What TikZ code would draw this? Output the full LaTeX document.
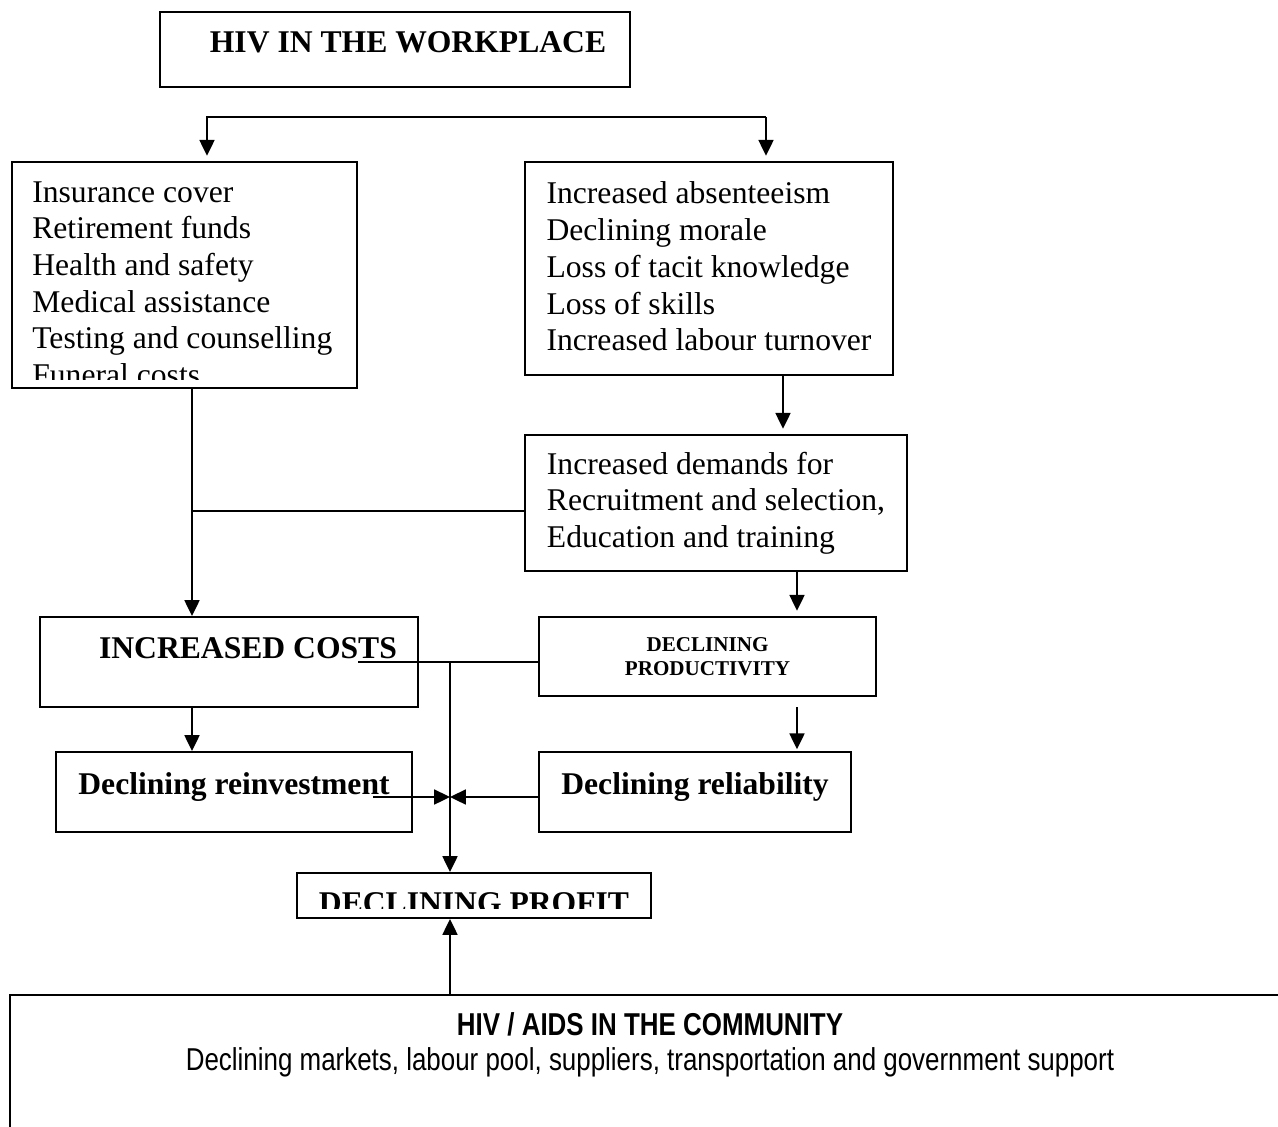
\documentclass[tikz,border=0pt]{standalone}
\usepackage{fontspec}
\setmainfont{Liberation Serif}
\newfontfamily\narrowsans[FakeStretch=0.82]{Liberation Sans}
\usetikzlibrary{arrows.meta}

\begin{document}
\begin{tikzpicture}[
    x=0.02cm, y=-0.02cm,
    panel/.style={draw, line width=1.1pt, inner sep=0pt, font=\fontsize{18}{20.9}\selectfont},
    listpanel/.style={panel, align=left},
    txt/.style={inner sep=0pt, font=\fontsize{18}{20.9}\selectfont},
    heavy/.style={font=\fontsize{18}{20.9}\selectfont\bfseries},
    arrow/.style={-{Triangle[width=8.5pt,length=9pt]}, line width=1.1pt},
    link/.style={line width=1.1pt}
]
    \useasboundingbox (0,0) rectangle (1278,1126);

    % top of the chart
    \node[panel, minimum width=9.4cm, minimum height=1.5cm] (work) at (395,49.5) {};
    \node[txt, heavy, anchor=base] (worktext) at (408,52) {HIV IN THE WORKPLACE};

    \begin{scope}
        \clip (12,162) rectangle (357,379);
        \node[txt, align=left, anchor=north west] (costlist) at (32,181) {Insurance cover\\Retirement funds\\Health and safety\\Medical assistance\\Testing and counselling\\Funeral costs};
    \end{scope}
    \node[panel, minimum width=6.9cm, minimum height=4.52cm] (benefits) at (184.5,275) {};

    \node[listpanel, text depth=2.5pt, minimum width=7.36cm, minimum height=4.26cm] (staff) at (709,268.5) {Increased absenteeism\\Declining morale\\Loss of tacit knowledge\\Loss of skills\\Increased labour turnover};
    \node[listpanel, minimum width=7.64cm, minimum height=2.72cm] (demand) at (716,503) {Increased demands for\\Recruitment and selection,\\Education and training};

    % middle
    \node[panel, minimum width=7.56cm, minimum height=1.8cm] (costs) at (229,662) {};
    \node[txt, heavy, anchor=base] (coststext) at (248,658) {INCREASED COSTS};
    \node[panel, align=center, font=\fontsize{12}{13.7}\selectfont\bfseries, minimum width=6.74cm, minimum height=1.58cm] (prod) at (707.5,656.5) {DECLINING\\PRODUCTIVITY};

    \node[panel, heavy, text height=12.5pt, text depth=9.5pt, minimum width=7.12cm, minimum height=1.6cm] (reinv) at (234,792) {Declining reinvestment};
    \node[panel, heavy, text height=12.5pt, text depth=9.5pt, minimum width=6.24cm, minimum height=1.6cm] (reliab) at (695,792) {Declining reliability};

    \begin{scope}
        \clip (297,873) rectangle (651,908);
        \node[txt, heavy, anchor=base] (profittext) at (474,913) {DECLINING PROFIT};
    \end{scope}
    \node[panel, minimum width=7.08cm, minimum height=0.9cm] (profit) at (474,895.5) {};

    % community
    \node[panel, minimum width=25.8cm, minimum height=3.3cm] (community) at (655,1077.5) {};
    \node[txt, font=\narrowsans\fontsize{18}{20}\selectfont, align=center, anchor=north] (commtext) at (650,1012) {\textbf{HIV / AIDS IN THE COMMUNITY}\\Declining markets, labour pool, suppliers, transportation and government support};

    % connectors
    \coordinate (forkL) at (207,117);
    \coordinate (forkR) at (766,117);
    \coordinate (x192) at (192,0);
    \coordinate (x450) at (450,0);
    \coordinate (x783) at (783,0);
    \coordinate (x797) at (797,0);
    \coordinate (jn) at (192,511);
    \coordinate (tap) at (358,662);
    \coordinate (hub) at (450,662);
    \coordinate (relTop) at (797,707);
    \coordinate (rt) at (373,797);

    \draw[arrow, shorten >=3pt] (forkR) -| (forkL |- benefits.north);
    \draw[arrow, shorten >=3pt] (forkR) -- (forkR |- staff.north);
    \draw[arrow, shorten >=3pt] (staff.south -| x783) -- (demand.north -| x783);

    \draw[arrow] (benefits.south -| x192) -- (costs.north -| x192);
    \draw[link] (jn) -- (jn -| demand.west);
    \draw[arrow, shorten >=3pt] (demand.south -| x797) -- (prod.north -| x797);

    \draw[arrow] (costs.south -| x192) -- (reinv.north -| x192);
    \draw[arrow, shorten >=1pt] (relTop) -- (relTop |- reliab.north);

    \draw[link] (tap) -- (tap -| prod.west);
    \draw[arrow] (hub) -- (profit.north -| x450);
    \draw[arrow] (rt) -- (rt -| x450);
    \draw[arrow] (reliab.west |- rt) -- (rt -| x450);
    \draw[arrow] (community.north -| x450) -- (profit.south -| x450);

\end{tikzpicture}
\end{document}
